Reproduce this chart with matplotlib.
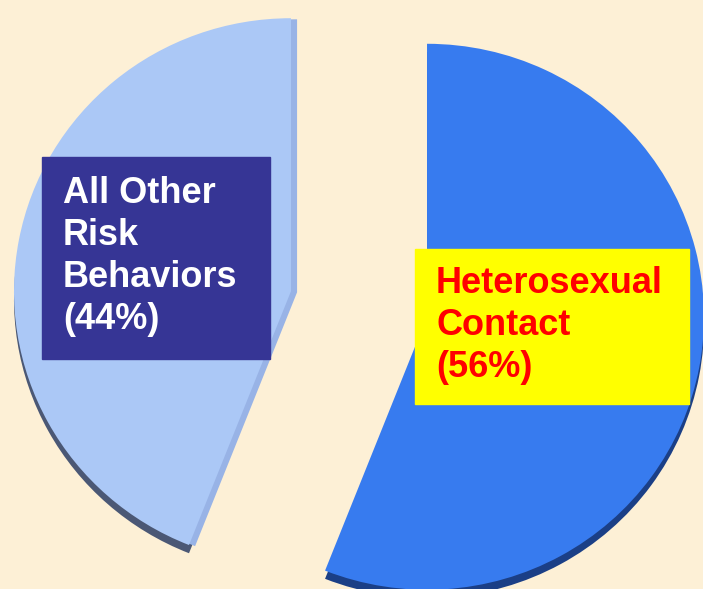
import matplotlib.pyplot as plt
from matplotlib.patches import Rectangle

shares = [56, 44]
labels = ['Heterosexual\nContact\n(56%)', 'All Other\nRisk\nBehaviors\n(44%)']
colors = ['#377bef', '#abc8f6']
explode = [0.25, 0.25]

W, H = 703, 589
fig = plt.figure(figsize=(W / 100, H / 100), dpi=100)
fig.patch.set_facecolor('#fdf0d6')
ax = fig.add_axes([0, 0, 1, 1])
ax.set_facecolor('#fdf0d6')

# 3D-ish depth: side faces under the slices
side1, _ = ax.pie(shares, explode=explode, startangle=90, counterclock=False,
                  colors=['#1b3f86', '#4b5875'], center=(0, -0.03))
side2, _ = ax.pie(shares, explode=explode, startangle=90, counterclock=False,
                  colors=['#1b3f86', '#98b3e6'], center=(0.022, -0.004))
wedges, _ = ax.pie(shares, explode=explode, startangle=90, counterclock=False,
                   colors=colors)
side2[0].set_visible(False)

# pie centre at pixel (359, 304); slightly wider than tall
sx, sy = 277, 273
ax.set_xlim(-359 / sx, (W - 359) / sx)
ax.set_ylim(-(H - 304) / sy, 304 / sy)
ax.set_aspect('auto')
ax.set_axis_off()

def box(x0, y0, x1, y1, color):
    fig.patches.append(Rectangle((x0 / W, 1 - y1 / H), (x1 - x0) / W, (y1 - y0) / H,
                                 transform=fig.transFigure, color=color, zorder=5))

box(42, 157, 270, 359, '#363595')
box(415, 249, 689, 404, '#ffff00')

fig.text(63 / W, 1 - 176 / H, labels[1], color='white', fontsize=26, fontweight='bold',
         family='Liberation Sans', va='top', ha='left', linespacing=1.26, zorder=6)
fig.text(436 / W, 1 - 266 / H, labels[0], color='#ff0000', fontsize=26, fontweight='bold',
         family='Liberation Sans', va='top', ha='left', linespacing=1.26, zorder=6)

plt.savefig('out.png', dpi=100, facecolor=fig.get_facecolor())
